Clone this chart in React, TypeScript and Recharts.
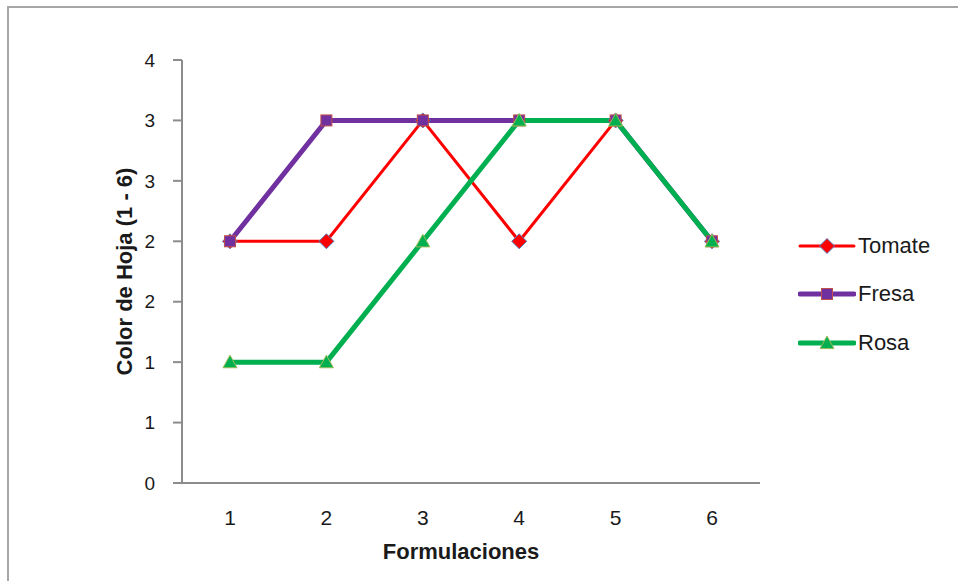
import React from 'react';
import { LineChart, Line, XAxis, YAxis } from 'recharts';

const categories = ['1', '2', '3', '4', '5', '6'];
const tomate = [2, 2, 3, 2, 3, 2];
const fresa = [2, 3, 3, 3, 3, 2];
const rosa = [1, 1, 2, 3, 3, 2];
const yTicks = [0, 0.5, 1, 1.5, 2, 2.5, 3, 3.5];
const seriesNames = ['Tomate', 'Fresa', 'Rosa'];

const data = categories.map((c, i) => ({
  cat: c,
  Tomate: tomate[i],
  Fresa: fresa[i],
  Rosa: rosa[i],
}));

const FONT = '"Liberation Sans", Arial, sans-serif';

const Diamond = (props: any) => {
  const { cx, cy } = props;
  if (cx == null || cy == null) return null;
  const s = 7.5;
  return (
    <polygon
      points={`${cx},${cy - s} ${cx + s},${cy} ${cx},${cy + s} ${cx - s},${cy}`}
      fill="#ff0000"
      stroke="#4f81bd"
      strokeWidth={1}
    />
  );
};

const Square = (props: any) => {
  const { cx, cy } = props;
  if (cx == null || cy == null) return null;
  const s = 5.5;
  return <rect x={cx - s} y={cy - s} width={2 * s} height={2 * s} fill="#7030a0" stroke="#c0504d" strokeWidth={1} />;
};

const Triangle = (props: any) => {
  const { cx, cy } = props;
  if (cx == null || cy == null) return null;
  const s = 7;
  return (
    <polygon
      points={`${cx},${cy - s} ${cx + s},${cy + s * 0.8} ${cx - s},${cy + s * 0.8}`}
      fill="#00b050"
      stroke="#9bbb59"
      strokeWidth={1}
    />
  );
};

const seriesStyle: Record<string, { color: string; width: number; Marker: any }> = {
  Tomate: { color: '#ff0000', width: 3, Marker: Diamond },
  Fresa: { color: '#7030a0', width: 5, Marker: Square },
  Rosa: { color: '#00b050', width: 5, Marker: Triangle },
};

const legendTops = [246, 294, 343];

export default function App() {
  return (
    <div style={{ position: 'fixed', left: 0, top: 0, width: 958, height: 581, overflow: 'hidden', background: '#fff' }}>
      <div
        style={{
          position: 'absolute',
          left: 7,
          top: 6,
          width: 2000,
          height: 2000,
          border: '2px solid #a6a6a6',
          boxSizing: 'border-box',
        }}
      />
      <div style={{ position: 'absolute', left: 0, top: 0 }}>
        <LineChart width={958} height={581} data={data} margin={{ top: 60, right: 198, bottom: 0, left: 100 }}>
          <XAxis
            dataKey="cat"
            height={98}
            padding={{ left: 48, right: 48 }}
            tickLine={false}
            tickSize={0}
            tickMargin={27}
            axisLine={{ stroke: '#8c8c8c', strokeWidth: 2 }}
            tick={{ fill: '#1a1a1a', fontSize: 21, fontFamily: FONT }}
            label={{
              value: 'Formulaciones',
              position: 'insideBottom',
              offset: 22,
              dx: -10,
              style: { fontWeight: 'bold', fontSize: 22, fontFamily: FONT, fill: '#1a1a1a' },
            }}
          />
          <YAxis
            width={82}
            domain={[0, 3.5]}
            ticks={yTicks}
            interval={0}
            tickFormatter={(v: number) => String(Math.round(v))}
            tickSize={9}
            tickMargin={18}
            axisLine={{ stroke: '#8c8c8c', strokeWidth: 2 }}
            tickLine={{ stroke: '#8c8c8c', strokeWidth: 2 }}
            tick={{ fill: '#1a1a1a', fontSize: 19, fontFamily: FONT }}
            label={{
              value: 'Color de Hoja (1 - 6)',
              angle: -90,
              position: 'insideLeft',
              offset: 24,
              style: { textAnchor: 'middle', fontWeight: 'bold', fontSize: 22, fontFamily: FONT, fill: '#1a1a1a' },
            }}
          />
          {seriesNames.map((name) => {
            const st = seriesStyle[name];
            const M = st.Marker;
            return (
              <Line
                key={name}
                dataKey={name}
                type="linear"
                stroke={st.color}
                strokeWidth={st.width}
                isAnimationActive={false}
                dot={(p: any) => <M key={`${name}-${p.index}`} cx={p.cx} cy={p.cy} />}
                activeDot={false}
              />
            );
          })}
        </LineChart>
      </div>
      {seriesNames.map((name, i) => {
        const st = seriesStyle[name];
        const M = st.Marker;
        const top = legendTops[i];
        return (
          <div key={name} style={{ position: 'absolute', left: 798, top: top - 15, height: 30, display: 'flex', alignItems: 'center' }}>
            <svg width={58} height={30}>
              <line x1={2} y1={15} x2={56} y2={15} stroke={st.color} strokeWidth={st.width} strokeLinecap="round" />
              <M cx={29} cy={15} />
            </svg>
            <span style={{ fontFamily: FONT, fontSize: 22, color: '#1a1a1a', marginLeft: 2, lineHeight: '30px' }}>{name}</span>
          </div>
        );
      })}
    </div>
  );
}
